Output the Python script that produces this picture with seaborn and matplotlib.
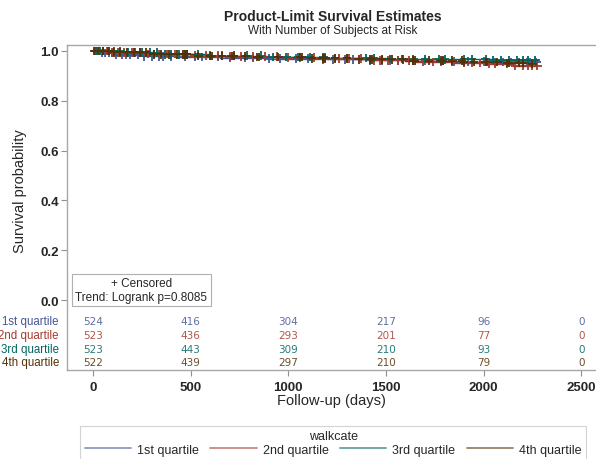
import numpy as np
import pandas as pd
import matplotlib
matplotlib.use("Agg")
import matplotlib.pyplot as plt
from matplotlib.lines import Line2D
import seaborn as sns

groups = ["1st quartile", "2nd quartile", "3rd quartile", "4th quartile"]
colors = ["#445694", "#A23A2E", "#01665E", "#543005"]

# step points of the Kaplan-Meier curves (days, survival)
q1_t = [0, 40, 120, 250, 420, 650, 900, 1150, 1400, 1650, 1850, 2050, 2275]
q1_s = [1.0, 0.992, 0.984, 0.978, 0.975, 0.972, 0.969, 0.966, 0.962, 0.959, 0.957, 0.955, 0.955]
q2_t = [0, 90, 260, 480, 700, 950, 1200, 1420, 1650, 1850, 2000, 2150, 2275]
q2_s = [1.0, 0.995, 0.987, 0.981, 0.977, 0.973, 0.969, 0.962, 0.956, 0.951, 0.947, 0.941, 0.941]
q3_t = [0, 150, 350, 600, 900, 1200, 1500, 1800, 2050, 2275]
q3_s = [1.0, 0.993, 0.986, 0.981, 0.976, 0.972, 0.968, 0.966, 0.964, 0.964]
q4_t = [0, 110, 300, 520, 800, 1100, 1350, 1600, 1900, 2100, 2250]
q4_s = [1.0, 0.994, 0.986, 0.98, 0.975, 0.97, 0.966, 0.961, 0.956, 0.951, 0.948]

# censoring times (days)
q1_c = [10, 30, 45, 60, 80, 95, 120, 150, 170, 190, 230, 260, 300, 340, 360, 400,
        470, 520, 560, 640, 700, 780, 820, 900, 960, 1040, 1100, 1180, 1230, 1290,
        1330, 1420, 1480, 1520, 1560, 1640, 1700, 1790, 1850, 1920, 2000, 2060,
        2100, 2140, 2180, 2220, 2240, 2270]
q2_c = [15, 30, 50, 70, 100, 130, 160, 200, 240, 280, 310, 340, 380, 420, 470, 520,
        580, 640, 700, 760, 820, 880, 940, 1000, 1060, 1130, 1190, 1260, 1310, 1370,
        1440, 1470, 1510, 1560, 1620, 1690, 1740, 1780, 1840, 1900, 1940, 1980,
        2030, 2060, 2120, 2160, 2200, 2230, 2250, 2275]
q3_c = [15, 35, 50, 75, 110, 140, 180, 215, 250, 290, 330, 370, 400, 440, 480, 540,
        600, 660, 720, 790, 860, 920, 990, 1050, 1110, 1180, 1240, 1300, 1400, 1440,
        1520, 1580, 1640, 1700, 1770, 1800, 1900, 1940, 2010, 2050, 2090, 2130,
        2170, 2200, 2230, 2265]
q4_c = [5, 25, 50, 80, 110, 140, 175, 210, 240, 270, 310, 350, 390, 430, 460, 470,
        480, 540, 600, 610, 660, 710, 720, 780, 840, 850, 950, 1060, 1070, 1120,
        1180, 1190, 1240, 1300, 1360, 1420, 1430, 1480, 1530, 1590, 1640, 1650,
        1720, 1780, 1790, 1840, 1890, 1900, 1950, 2010, 2020, 2070, 2120, 2130,
        2180, 2200, 2250]

times = [q1_t, q2_t, q3_t, q4_t]
survs = [q1_s, q2_s, q3_s, q4_s]
cens = [q1_c, q2_c, q3_c, q4_c]

risk_times = [0, 500, 1000, 1500, 2000, 2500]
risk = [[524, 416, 304, 217, 96, 0],
        [523, 436, 293, 201, 77, 0],
        [523, 443, 309, 210, 93, 0],
        [522, 439, 297, 210, 79, 0]]

curve_df = pd.concat([pd.DataFrame({"t": t, "s": s, "g": g})
                      for t, s, g in zip(times, survs, groups)])
cens_rows = []
for t, s, c, g in zip(times, survs, cens, groups):
    idx = np.searchsorted(t, c, side="right") - 1
    cens_rows.append(pd.DataFrame({"t": c, "s": np.array(s)[idx], "g": g}))
cens_df = pd.concat(cens_rows)

sns.set_style("white")
plt.rcParams["font.family"] = ["Liberation Sans", "DejaVu Sans"]

fig = plt.figure(figsize=(5.96, 4.6), dpi=100)
ax = fig.add_axes([0.1124, 0.1935, 0.889, 0.7065])
pal = dict(zip(groups, colors))

for g in groups:
    d = curve_df[curve_df.g == g]
    sns.lineplot(data=d, x="t", y="s", color=pal[g], drawstyle="steps-post",
                 lw=1.0, ax=ax, legend=False, estimator=None, sort=False)
sns.scatterplot(data=cens_df, x="t", y="s", hue="g", palette=pal, marker="+",
                s=38, linewidth=1.3, ax=ax, legend=False, zorder=3)

ax.set_xlim(-133, 2580)
ax.set_ylim(-0.281, 1.024)
ax.set_xticks(risk_times)
ax.set_yticks([0, 0.2, 0.4, 0.6, 0.8, 1.0])
ax.set_yticklabels(["0.0", "0.2", "0.4", "0.6", "0.8", "1.0"])
ax.tick_params(axis="both", direction="out", length=4, width=0.8, left=True,
               bottom=True, color="#909090", labelsize=9.5, pad=2)
ax.tick_params(axis="x", pad=4)
for lab in ax.get_xticklabels() + ax.get_yticklabels():
    lab.set_fontweight("bold")
for sp in ["top", "left", "bottom"]:
    ax.spines[sp].set_color("#a8a8a8")
    ax.spines[sp].set_linewidth(1.0)
ax.spines["right"].set_visible(False)

ax.set_xlabel("Follow-up (days)", fontsize=10.5, labelpad=0)
ax.set_ylabel("Survival probability", fontsize=10.5)
ax.yaxis.set_label_coords(-0.076, 0.554)

# risk table inside the axes
row_y = [-0.084, -0.140, -0.196, -0.249]
for i, g in enumerate(groups):
    ax.text(-174, row_y[i], g, color=colors[i], fontsize=8.3, ha="right",
            va="center", clip_on=False)
    for x, n in zip(risk_times, risk[i]):
        ax.text(x, row_y[i], str(n), color=colors[i], fontsize=7.5,
                ha="center", va="center", family="DejaVu Sans", alpha=0.85)

ax.text(248, 0.04, "+ Censored\nTrend: Logrank p=0.8085", fontsize=8.5,
        ha="center", va="center", linespacing=1.2,
        bbox=dict(boxstyle="square,pad=0.3", fc="white", ec="#b0b0b0", lw=0.8))

fig.text(0.559, 0.963, "Product-Limit Survival Estimates", fontsize=10,
         fontweight="bold", ha="center", va="center")
fig.text(0.559, 0.933, "With Number of Subjects at Risk", fontsize=8.5,
         ha="center", va="center")

handles = [Line2D([0], [0], color=c, lw=1.3, alpha=0.6) for c in colors]
leg = fig.legend(handles, groups, title="walkcate", ncol=4, loc="upper center",
                 bbox_to_anchor=(0.559, 0.072), fontsize=9, title_fontsize=9,
                 handlelength=3.7, columnspacing=0.9, handletextpad=0.5,
                 frameon=True, fancybox=False, borderpad=0.35, labelspacing=0.1,
                 borderaxespad=0)
leg.get_frame().set_edgecolor("#c8c8c8")
leg.get_frame().set_linewidth(0.8)

fig.savefig("out.png", dpi=100)
